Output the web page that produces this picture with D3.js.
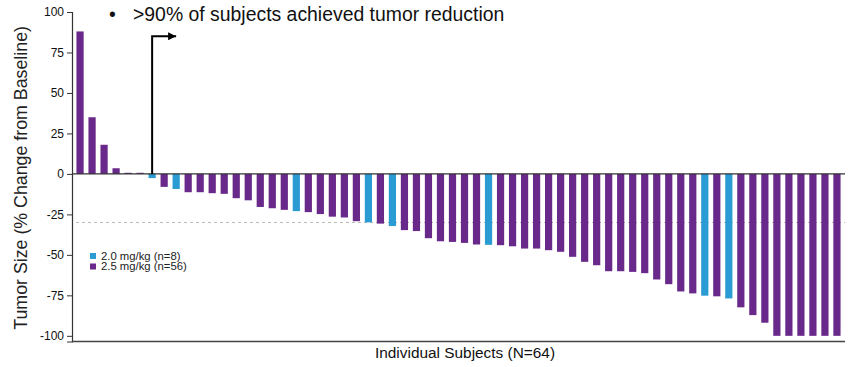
<!DOCTYPE html>
<html>
<head>
<meta charset="utf-8">
<script src="https://cdn.jsdelivr.net/npm/d3@7"></script>
<style>
  body { margin: 0; background: #fff; }
  svg { display: block; font-family: Arial, "Liberation Sans", sans-serif; }
</style>
</head>
<body>
<svg id="chart"></svg>
<script>
var width = 850
var height = 367

// tumor size, % change from baseline, sorted as in the waterfall
const values = [88, 35, 18, 3.5, 0.7, 0.7, -2.6, -8, -9.3, -11.3, -11.3, -11.9, -12.3, -15, -16.3, -20.4,
  -21.2, -22.2, -23, -23.6, -24.8, -26.4, -26.9, -29.2, -29.9, -30.7, -32.2, -34.7, -35.3, -39.7, -41.6, -42,
  -42.6, -43.6, -43.8, -44, -44.7, -46.1, -46.1, -47.1, -48.1, -51.2, -54.3, -56.4, -60.1, -60.1, -60.5, -61.3,
  -65.2, -68.1, -72.6, -73.8, -75.2, -75.6, -76.9, -82.4, -87.2, -91.9, -100, -100, -100, -100, -100, -100]
// dose group of each subject (index into doses)
const groups = [1, 1, 1, 1, 1, 1, 0, 1, 0, 1, 1, 1, 1, 1, 1, 1,
  1, 1, 0, 1, 1, 1, 1, 1, 0, 1, 0, 1, 1, 1, 1, 1,
  1, 1, 0, 1, 1, 1, 1, 1, 1, 1, 1, 1, 1, 1, 1, 1,
  1, 1, 1, 1, 0, 1, 0, 1, 1, 1, 1, 1, 1, 1, 1, 1]
const doses = ["2.0 mg/kg (n=8)", "2.5 mg/kg (n=56)"]
const yTicks = [100, 75, 50, 25, 0, -25, -50, -75, -100]
const threshold = -30
const arrowValue = 85
const title = ">90% of subjects achieved tumor reduction"

const colors = ["#2B9BD3", "#69298A"]

const svg = d3.select("svg#chart").attr("width", width).attr("height", height)

const x = d3.scaleBand()
    .domain(d3.range(values.length))
    .range([72, 845])
    .paddingInner(0.4)
    .paddingOuter(0.37)

const y = d3.scaleLinear()
    .domain([-103.5, 100])
    .range([341.5, 12])

// y axis, plain hyphen for negatives like the original
const yAxis = svg.append("g")
    .attr("transform", "translate(72,0)")
    .call(d3.axisLeft(y).tickValues(yTicks).tickSize(5).tickPadding(3).tickFormat(d => String(d)))
yAxis.select(".domain").attr("stroke", "#333").attr("stroke-width", 1.2)
yAxis.selectAll(".tick line").attr("stroke", "#333")
yAxis.selectAll("text").attr("font-size", 12).attr("fill", "#111")
    .attr("font-family", "Arial, 'Liberation Sans', sans-serif")

svg.append("text")
    .attr("transform", `translate(27,${y(0) + 4}) rotate(-90)`)
    .attr("text-anchor", "middle")
    .attr("font-size", 17.8)
    .attr("fill", "#222")
    .text("Tumor Size (% Change from Baseline)")

// bottom axis line
svg.append("line")
    .attr("x1", 72).attr("x2", 845)
    .attr("y1", y.range()[0]).attr("y2", y.range()[0])
    .attr("stroke", "#444").attr("stroke-width", 1.6)

svg.append("text")
    .attr("x", 465).attr("y", 358)
    .attr("text-anchor", "middle")
    .attr("font-size", 15.4)
    .attr("fill", "#111")
    .text("Individual Subjects (N=" + values.length + ")")

// -30% threshold
svg.append("line")
    .attr("x1", 76).attr("x2", 845)
    .attr("y1", y(threshold)).attr("y2", y(threshold))
    .attr("stroke", "#bbb").attr("stroke-width", 1)
    .attr("stroke-dasharray", "3,3")

// bars
svg.append("g")
  .selectAll("rect")
  .data(values)
  .enter().append("rect")
    .attr("x", (d, i) => x(i))
    .attr("width", x.bandwidth())
    .attr("y", d => y(Math.max(0, d)))
    .attr("height", d => Math.abs(y(d) - y(0)))
    .attr("fill", (d, i) => colors[groups[i]])

// zero line
svg.append("line")
    .attr("x1", 72).attr("x2", 845)
    .attr("y1", y(0)).attr("y2", y(0))
    .attr("stroke", "#333").attr("stroke-width", 1.4)

// arrow at the first shrinking tumor
const firstNeg = values.findIndex(v => v < 0)
const ax = x(firstNeg) + x.bandwidth() / 2
svg.append("defs").append("marker")
    .attr("id", "head")
    .attr("viewBox", "0 0 10 10")
    .attr("refX", 10).attr("refY", 5)
    .attr("markerWidth", 4).attr("markerHeight", 4)
    .attr("orient", "auto")
  .append("path")
    .attr("d", "M0,0L10,5L0,10Z")
    .attr("fill", "#000")
svg.append("path")
    .attr("d", `M${ax},${y(0)}V${y(arrowValue)}H${ax + 24}`)
    .attr("fill", "none")
    .attr("stroke", "#000")
    .attr("stroke-width", 2)
    .attr("marker-end", "url(#head)")

// headline
svg.append("text")
    .attr("x", 109).attr("y", 21)
    .attr("font-size", 19.4)
    .attr("fill", "#111")
    .text("\u2022")
svg.append("text")
    .attr("x", 133).attr("y", 21)
    .attr("font-size", 19.4)
    .attr("fill", "#111")
    .text(title)

// legend
const legend = svg.append("g")
  .selectAll("g")
  .data(doses)
  .enter().append("g")
    .attr("transform", (d, i) => `translate(90,${253 + i * 10.5})`)
legend.append("rect")
    .attr("width", 6).attr("height", 6)
    .attr("fill", (d, i) => colors[i])
legend.append("text")
    .attr("x", 11).attr("y", 6.5)
    .attr("font-size", 11.3)
    .attr("fill", "#222")
    .text(d => d)
</script>
</body>
</html>
